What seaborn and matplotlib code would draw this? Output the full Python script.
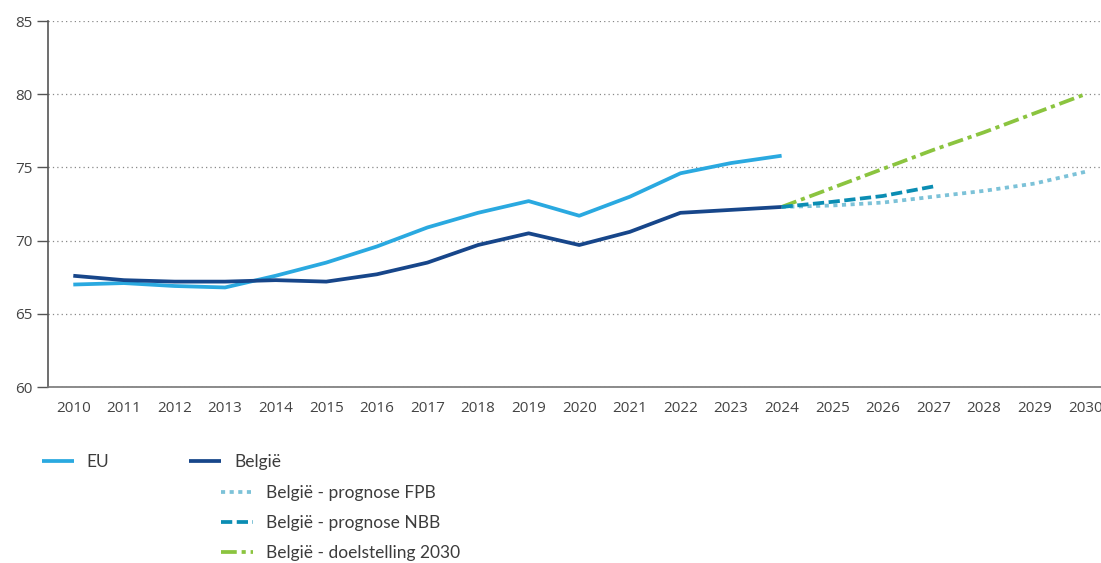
import numpy as np
import pandas as pd

import matplotlib
matplotlib.use("Agg")
import matplotlib.pyplot as plt
from matplotlib.lines import Line2D
import seaborn as sns

years_hist = list(range(2010, 2025))
eu = [67.0, 67.1, 66.9, 66.8, 67.6, 68.5, 69.6, 70.9, 71.9, 72.7, 71.7, 73.0, 74.6, 75.3, 75.8]
belgie = [67.6, 67.3, 67.2, 67.2, 67.3, 67.2, 67.7, 68.5, 69.7, 70.5, 69.7, 70.6, 71.9, 72.1, 72.3]

years_fpb = list(range(2024, 2031))
fpb = [72.3, 72.4, 72.6, 73.0, 73.4, 73.9, 74.7]
years_nbb = list(range(2024, 2028))
nbb = [72.3, 72.65, 73.05, 73.7]
years_target = list(range(2024, 2031))
target = [72.3, 73.6, 74.9, 76.2, 77.4, 78.7, 80.0]

all_years = list(range(2010, 2031))

names = ["EU", "België", "België - prognose FPB", "België - prognose NBB", "België - doelstelling 2030"]
colors = {
    names[0]: "#2aa9e0",
    names[1]: "#17468a",
    names[2]: "#7cc2d8",
    names[3]: "#0b8db3",
    names[4]: "#8bc43f",
}
dashes = {
    names[0]: "",
    names[1]: "",
    names[2]: (1.1, 1.2),
    names[3]: (3.0, 1.2),
    names[4]: (4.2, 1.3, 1.1, 1.3),
}

frames = []
for name, xs, ys in [
    (names[0], years_hist, eu),
    (names[1], years_hist, belgie),
    (names[2], years_fpb, fpb),
    (names[3], years_nbb, nbb),
    (names[4], years_target, target),
]:
    frames.append(pd.DataFrame({"year": xs, "value": ys, "series": name}))
df = pd.concat(frames, ignore_index=True)

sns.set_style("white")
plt.rcParams["font.family"] = ["Open Sans", "DejaVu Sans"]

fig = plt.figure(figsize=(11.01, 5.63), dpi=100)
ax = fig.add_axes([0.0436, 0.3126, 0.965, 0.650])

# forecasts first so the historic lines sit on top
order = [names[4], names[2], names[3], names[0], names[1]]
for name in order:
    sub = df[df["series"] == name]
    sns.lineplot(data=sub, x="year", y="value", ax=ax, color=colors[name],
                 linewidth=2.7, dashes=False, legend=False)
    line = ax.get_lines()[-1]
    if dashes[name]:
        line.set_dashes(dashes[name])
    line.set_solid_capstyle("butt")
    line.set_dash_capstyle("butt")

ax.set_xlim(2009.5, 2030.5)
ax.set_ylim(60, 85)
ax.set_xticks(all_years)
ax.set_xticklabels([str(y) for y in all_years])
ax.set_xticks([y + 0.5 for y in all_years[:-1]], minor=True)
ax.tick_params(axis="x", which="major", length=0, pad=10, labelsize=11, labelcolor="#444444")
ax.tick_params(axis="x", which="minor", direction="in", length=8, width=1, color="#555555")
ax.set_yticks([60, 65, 70, 75, 80, 85])
ax.tick_params(axis="y", direction="out", length=8, width=1, color="#555555",
               labelsize=11, labelcolor="#444444", pad=3, left=True)
ax.set_xlabel("")
ax.set_ylabel("")

ax.yaxis.grid(True, linestyle=(0, (1, 2.5)), color="#888888", linewidth=0.9)
ax.xaxis.grid(False)
for s in ["top", "right"]:
    ax.spines[s].set_visible(False)
ax.spines["left"].set_color("#555555")
ax.spines["bottom"].set_color("#777777")
ax.spines["left"].set_linewidth(1.2)
ax.spines["bottom"].set_linewidth(1.2)


def handle(name):
    h = Line2D([0], [0], color=colors[name], linewidth=2.7)
    if dashes[name]:
        h.set_dashes(dashes[name])
    h.set_dash_capstyle("butt")
    h.set_solid_capstyle("butt")
    return h


leg_font = {"family": ["Lato", "DejaVu Sans"], "size": 12.5}
leg_kw = dict(frameon=False, prop=leg_font, handlelength=1.84, handletextpad=0.75,
              labelspacing=0.80, borderaxespad=0, borderpad=0, labelcolor="#3c3c3c")
fig.legend(handles=[handle(names[0])], labels=[names[0]], loc="upper left",
           bbox_to_anchor=(0.038, 0.193), **leg_kw)
fig.legend(handles=[handle(names[1])], labels=[names[1]], loc="upper left",
           bbox_to_anchor=(0.172, 0.193), **leg_kw)
fig.legend(handles=[handle(n) for n in names[2:]], labels=names[2:], loc="upper left",
           bbox_to_anchor=(0.201, 0.138), **leg_kw)

fig.savefig("out.png", dpi=100)
plt.close(fig)
